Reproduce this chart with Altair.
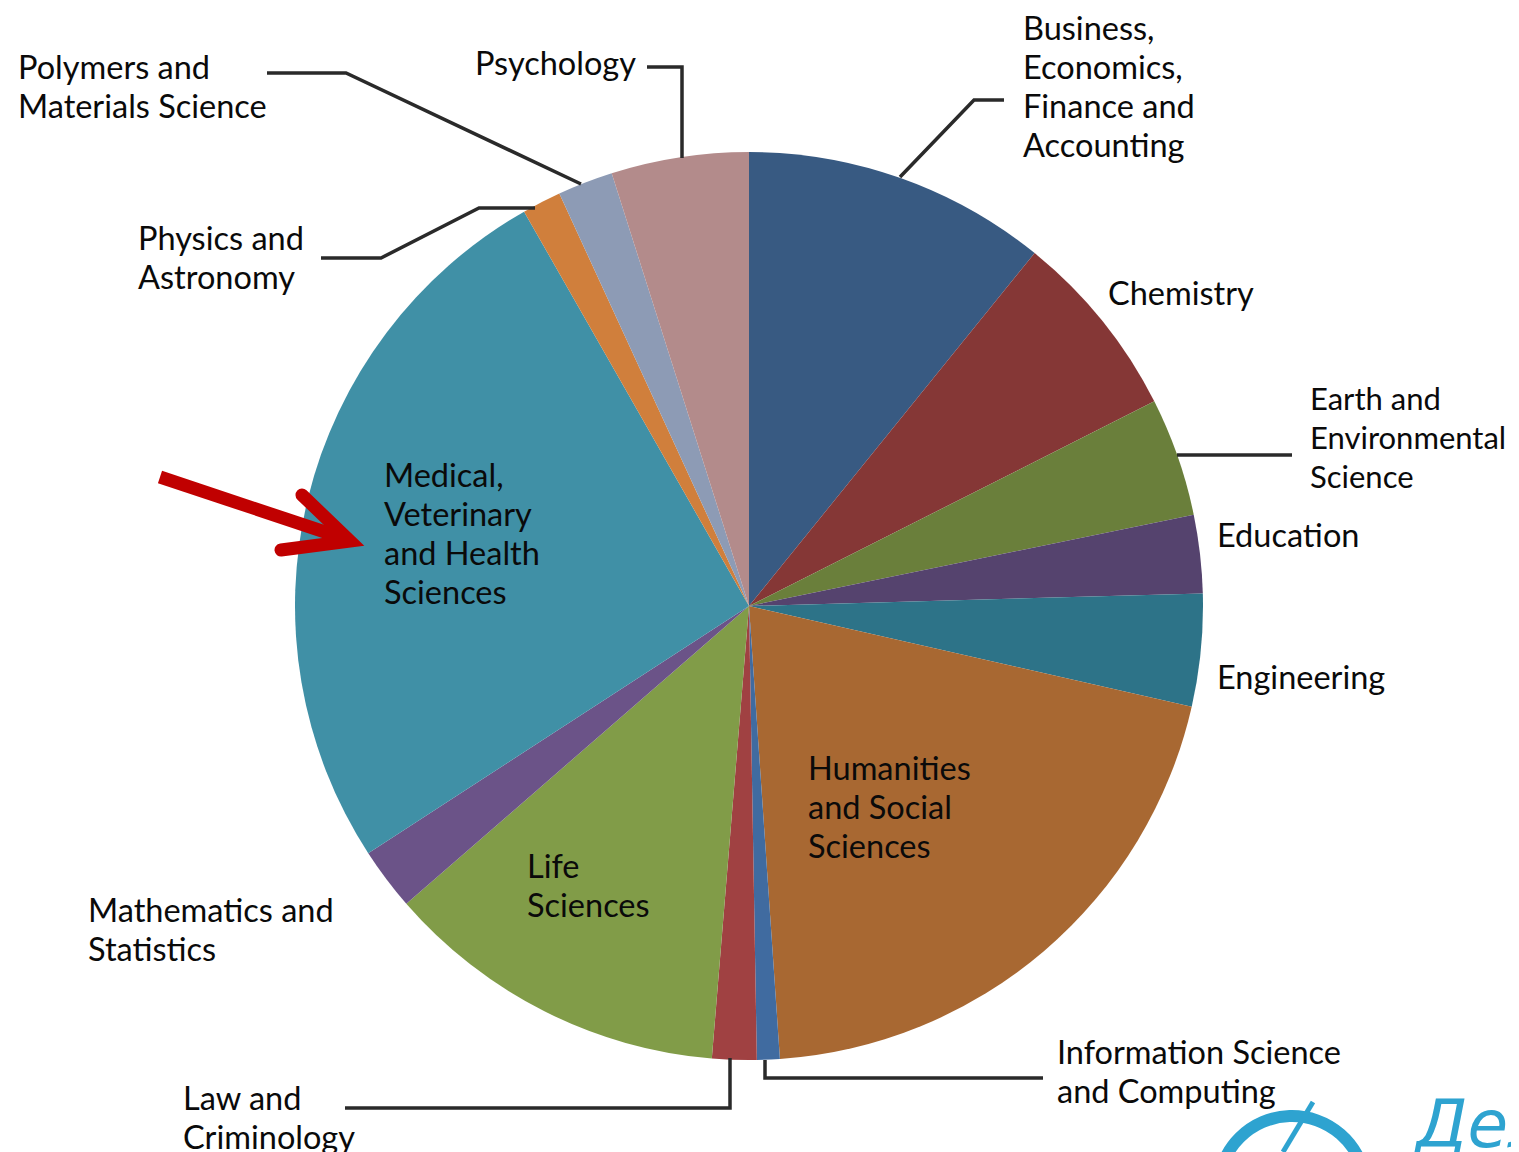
import altair as alt
import pandas as pd

# ---- pie data (clockwise from 12 o'clock) ----
categories = [
    "Business, Economics, Finance and Accounting", "Chemistry",
    "Earth and Environmental Science", "Education", "Engineering",
    "Humanities and Social Sciences", "Information Science and Computing",
    "Law and Criminology", "Life Sciences", "Mathematics and Statistics",
    "Medical, Veterinary and Health Sciences", "Physics and Astronomy",
    "Polymers and Materials Science", "Psychology",
]
shares = [10.83, 6.73, 4.22, 2.78, 4.0, 20.36, 0.81, 1.58, 12.31, 2.22, 25.92, 1.39, 1.97, 4.89]
colors = ["#385a82", "#853736", "#6a7f3b", "#55436e", "#2d7388", "#a86832", "#406ba0",
          "#a04142", "#819c48", "#6b5388", "#4090a6", "#d07f3c", "#8d9bb5", "#b38b8b"]

# ---- labels (image coordinates, first-line baseline) ----
label_texts = [
    "Business,\nEconomics,\nFinance and\nAccounting", "Chemistry",
    "Earth and\nEnvironmental\nScience", "Education", "Engineering",
    "Humanities\nand Social\nSciences", "Information Science\nand Computing",
    "Law and\nCriminology", "Life\nSciences", "Mathematics and\nStatistics",
    "Medical,\nVeterinary\nand Health\nSciences", "Physics and\nAstronomy",
    "Polymers and\nMaterials Science", "Psychology",
]
label_x = [1023, 1108, 1310, 1217, 1217, 808, 1057, 183, 527, 88, 384, 138, 18, 475]
label_y = [40, 305, 410, 547, 689, 780, 1064, 1110, 878, 922, 487, 250, 79, 75]
label_size = [32.5, 32.5, 31, 32.5, 32.5, 32.5, 32.5, 32.5, 32.5, 32.5, 32.5, 32.5, 32.5, 32.5]

# ---- leader lines (image coordinates) ----
leader_lines = {
    "polymers": [(267, 73), (346, 73), (581, 184)],
    "physics": [(321, 258), (381, 258), (479, 208), (535, 208)],
    "psychology": [(647, 67), (682, 67), (682, 158)],
    "business": [(1004, 100), (974, 100), (900, 177)],
    "earth": [(1177, 455), (1292, 455)],
    "info": [(765, 1060), (765, 1078), (1043, 1078)],
    "law": [(730, 1058), (730, 1108), (345, 1108)],
}
arrow_shaft = [(160, 477), (343, 538)]
arrow_head = [(302, 495), (350, 541), (281, 550)]

W, H = 1503, 1144
X0, Y0 = 8, 8
CX, CY, R = 749, 606, 454

xs = alt.Scale(domain=[X0, X0 + W], nice=False, zero=False)
ys = alt.Scale(domain=[Y0, Y0 + H], reverse=True, nice=False, zero=False)

pie_df = pd.DataFrame({"category": categories, "share": shares, "order": list(range(len(shares)))})
pie = alt.Chart(pie_df).mark_arc(outerRadius=R).encode(
    theta=alt.Theta("share:Q", stack=True),
    order=alt.Order("order:Q"),
    color=alt.Color("category:N", scale=alt.Scale(domain=categories, range=colors), legend=None),
    x=alt.value(CX - X0),
    y=alt.value(CY - Y0),
)

rows = []
for name, pts in leader_lines.items():
    for i, (px, py) in enumerate(pts):
        rows.append({"line": name, "i": i, "x": px, "y": py})
lines_df = pd.DataFrame(rows)
leaders = alt.Chart(lines_df).mark_line(color="#2a2a2a", strokeWidth=3.5, strokeJoin="miter").encode(
    x=alt.X("x:Q", scale=xs, axis=None),
    y=alt.Y("y:Q", scale=ys, axis=None),
    detail="line:N",
    order="i:Q",
)

shaft_df = pd.DataFrame({"x": [p[0] for p in arrow_shaft], "y": [p[1] for p in arrow_shaft], "i": [0, 1]})
shaft = alt.Chart(shaft_df).mark_line(color="#c00000", strokeWidth=13, strokeCap="butt").encode(
    x=alt.X("x:Q", scale=xs, axis=None), y=alt.Y("y:Q", scale=ys, axis=None), order="i:Q")
head_df = pd.DataFrame({"x": [p[0] for p in arrow_head], "y": [p[1] for p in arrow_head], "i": [0, 1, 2]})
head = alt.Chart(head_df).mark_line(color="#c00000", strokeWidth=13, strokeCap="round", strokeJoin="miter").encode(
    x=alt.X("x:Q", scale=xs, axis=None), y=alt.Y("y:Q", scale=ys, axis=None), order="i:Q")

lab_df = pd.DataFrame({"t": label_texts, "x": label_x, "y": label_y, "s": label_size})
labels = alt.Chart(lab_df).mark_text(
    font="Lato", align="left", baseline="alphabetic",
    lineBreak="\n", lineHeight=39, color="#0a0a0a",
).encode(
    x=alt.X("x:Q", scale=xs, axis=None),
    y=alt.Y("y:Q", scale=ys, axis=None),
    size=alt.Size("s:Q", scale=None, legend=None),
    text="t:N",
)

# ---- logo fragment at bottom right ----
logo_df = pd.DataFrame({"t": ["Дел"], "x": [1416], "y": [1147]})
logo_text = alt.Chart(logo_df).mark_text(
    font="DejaVu Sans", fontSize=66, fontStyle="italic",
    align="left", baseline="alphabetic", color="#2ea3d0",
).encode(x=alt.X("x:Q", scale=xs, axis=None), y=alt.Y("y:Q", scale=ys, axis=None), text="t:N")

swirl = alt.Chart(pd.DataFrame({"a": [1]})).mark_arc(
    color="#2ea3d0", outerRadius=80, innerRadius=68, theta=4.75, theta2=7.75,
).encode(x=alt.value(1292 - X0), y=alt.value(1190 - Y0))

stroke_df = pd.DataFrame({"x": [1313, 1283], "y": [1102, 1152], "i": [0, 1]})
swirl_stroke = alt.Chart(stroke_df).mark_line(color="#2ea3d0", strokeWidth=5).encode(
    x=alt.X("x:Q", scale=xs, axis=None), y=alt.Y("y:Q", scale=ys, axis=None), order="i:Q")

chart = alt.layer(pie, leaders, shaft, head, labels, swirl, swirl_stroke, logo_text).properties(
    width=W, height=H, padding=0, autosize="none", background="white",
).configure_view(stroke=None)

chart.save("out.html", embed_options={"renderer": "svg", "actions": False})
